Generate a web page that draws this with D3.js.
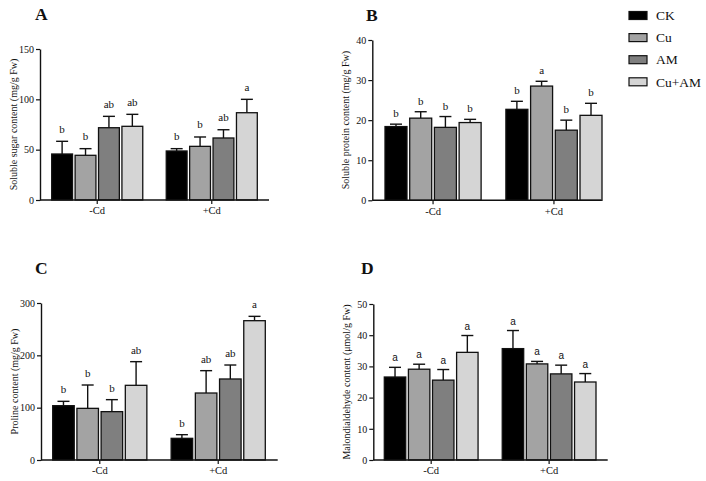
<!DOCTYPE html>
<html>
<head>
<meta charset="utf-8">
<script src="https://cdn.jsdelivr.net/npm/d3@7"></script>
<style>
  body { margin: 0; background: #fff; }
  svg { display: block; }
  text { font-family: "Liberation Serif", "Times New Roman", serif; fill: #111; }
</style>
</head>
<body>
<div id="chart"></div>
<script>
// groups and treatments
const groups = ["-Cd", "+Cd"];
const treatments = ["CK", "Cu", "AM", "Cu+AM"];

// values, ordered -Cd (CK, Cu, AM, Cu+AM) then +Cd
const sugarMean = [45.7, 44.4, 71.8, 73.2, 48.7, 53.3, 61.6, 86.7];
const sugarErr = [12.6, 6.6, 11.3, 11.9, 2.3, 9.3, 8.2, 13.3];
const sugarSig = ["b", "b", "ab", "ab", "b", "b", "ab", "a"];
const sugarTicks = [0, 50, 100, 150];

const proteinMean = [18.4, 20.5, 18.2, 19.4, 22.7, 28.5, 17.5, 21.2];
const proteinErr = [0.6, 1.6, 2.7, 0.8, 2.0, 1.2, 2.5, 3.0];
const proteinSig = ["b", "b", "b", "b", "b", "a", "b", "b"];
const proteinTicks = [0, 10, 20, 30, 40];

const prolineMean = [103.8, 98.7, 92.4, 142.7, 41.4, 128.0, 154.8, 266.2];
const prolineErr = [8.3, 44.6, 22.9, 45.2, 7.0, 42.7, 26.7, 8.3];
const prolineSig = ["b", "b", "b", "ab", "b", "ab", "ab", "a"];
const prolineTicks = [0, 100, 200, 300];

const mdaMean = [26.6, 29.1, 25.6, 34.5, 35.7, 30.8, 27.6, 25.0];
const mdaErr = [3.1, 1.6, 3.4, 5.4, 5.8, 0.8, 2.8, 2.7];
const mdaSig = ["a", "a", "a", "a", "a", "a", "a", "a"];
const mdaTicks = [0, 10, 20, 30, 40, 50];

const W = 706, H = 481;

const color = d3.scaleOrdinal()
  .domain(treatments)
  .range(["#000000", "#a3a3a3", "#7f7f7f", "#d5d5d5"]);

const svg = d3.select("#chart").append("svg")
  .attr("width", W)
  .attr("height", H);

// layout of each panel
const panels = [
  { letter: "A", lx: 35, ly: 20, label: "Soluble sugar content (mg/g Fw)",
    mean: sugarMean, err: sugarErr, sig: sugarSig, ticks: sugarTicks,
    x0: 40, xEnd: 269, top: 49, bottom: 200, band: [51.7, 257.3], sigFont: "serif", sigGap: 8.5 },
  { letter: "B", lx: 366, ly: 20.5, label: "Soluble protein content (mg/g Fw)",
    mean: proteinMean, err: proteinErr, sig: proteinSig, ticks: proteinTicks,
    x0: 372.3, xEnd: 601, top: 40, bottom: 200.3, band: [385, 602], sigFont: "serif", sigGap: 7 },
  { letter: "C", lx: 35, ly: 274, label: "Proline content (mg/g Fw)",
    mean: prolineMean, err: prolineErr, sig: prolineSig, ticks: prolineTicks,
    x0: 41, xEnd: 277.7, top: 303, bottom: 460, band: [52.7, 265.3], sigFont: "serif", sigGap: 8 },
  { letter: "D", lx: 361, ly: 274, label: "Malondialdehyde content (\u03bcmol/g Fw)",
    mean: mdaMean, err: mdaErr, sig: mdaSig, ticks: mdaTicks,
    x0: 373.3, xEnd: 607.7, top: 304, bottom: 460, band: [384.3, 596], sigFont: "sans", sigGap: 6 }
];

panels.forEach(function(p) {
  const g = svg.append("g");

  const y = d3.scaleLinear()
    .domain([0, d3.max(p.ticks)])
    .range([p.bottom, p.top]);

  const xGroup = d3.scaleBand()
    .domain(groups)
    .range(p.band)
    .paddingInner(0.205)
    .paddingOuter(0);

  const xBar = d3.scaleBand()
    .domain(treatments)
    .range([0, xGroup.bandwidth()])
    .paddingInner(0.11)
    .paddingOuter(0);

  // build rows from the arrays
  const rows = p.mean.map(function(v, i) {
    return {
      group: groups[Math.floor(i / treatments.length)],
      treat: treatments[i % treatments.length],
      value: v,
      err: p.err[i],
      sig: p.sig[i]
    };
  });

  const bx = d => xGroup(d.group) + xBar(d.treat);
  const cx = d => bx(d) + xBar.bandwidth() / 2;

  // error bars (upper only)
  g.selectAll("line.err").data(rows).enter()
    .append("line")
    .attr("class", "err")
    .attr("x1", cx).attr("x2", cx)
    .attr("y1", d => y(d.value))
    .attr("y2", d => y(d.value + d.err))
    .attr("stroke", "#111")
    .attr("stroke-width", 1.4);

  g.selectAll("line.cap").data(rows).enter()
    .append("line")
    .attr("class", "cap")
    .attr("x1", d => cx(d) - 6).attr("x2", d => cx(d) + 6)
    .attr("y1", d => y(d.value + d.err))
    .attr("y2", d => y(d.value + d.err))
    .attr("stroke", "#111")
    .attr("stroke-width", 1.4);

  // bars
  g.selectAll("rect.bar").data(rows).enter()
    .append("rect")
    .attr("class", "bar")
    .attr("x", bx)
    .attr("y", d => y(d.value))
    .attr("width", xBar.bandwidth())
    .attr("height", d => y(0) - y(d.value))
    .attr("fill", d => color(d.treat))
    .attr("stroke", "#111")
    .attr("stroke-width", 1.3);

  // significance letters
  g.selectAll("text.sig").data(rows).enter()
    .append("text")
    .attr("class", "sig")
    .attr("x", cx)
    .attr("y", d => y(d.value + d.err) - p.sigGap)
    .attr("text-anchor", "middle")
    .style("font-size", p.sigFont == "sans" ? "10px" : "11px")
    .style("font-family", p.sigFont == "sans" ? "'Liberation Sans', Arial, sans-serif" : null)
    .text(d => d.sig);

  // y axis
  const yAxis = g.append("g")
    .attr("transform", "translate(" + p.x0 + ",0)")
    .call(d3.axisLeft(y).tickValues(p.ticks).tickSize(4).tickSizeOuter(0).tickPadding(2));
  yAxis.select(".domain").attr("stroke", "#111").attr("stroke-width", 1.4);
  yAxis.selectAll(".tick line").attr("stroke", "#111").attr("stroke-width", 1.2);
  yAxis.selectAll(".tick text")
    .style("font-family", "'Liberation Serif', serif")
    .style("font-size", "10px")
    .attr("fill", "#222");

  // x axis: ticks at group centres, baseline drawn to panel end
  const xAxis = g.append("g")
    .attr("transform", "translate(0," + p.bottom + ")")
    .call(d3.axisBottom(xGroup).tickSize(4).tickSizeOuter(0).tickPadding(3));
  xAxis.select(".domain").remove();
  xAxis.selectAll(".tick line").attr("stroke", "#111").attr("stroke-width", 1.2);
  xAxis.selectAll(".tick text")
    .style("font-family", "'Liberation Serif', serif")
    .style("font-size", "10.5px")
    .attr("fill", "#222");

  g.append("line")
    .attr("x1", p.x0).attr("x2", p.xEnd)
    .attr("y1", p.bottom).attr("y2", p.bottom)
    .attr("stroke", "#111")
    .attr("stroke-width", 1.4);

  // y axis title
  g.append("text")
    .attr("transform", "translate(" + (p.x0 - 27) + "," + ((p.top + p.bottom) / 2) + ") rotate(-90)")
    .attr("text-anchor", "middle")
    .attr("dy", "0.35em")
    .style("font-size", "10px")
    .text(p.label);

  // panel letter
  g.append("text")
    .attr("x", p.lx)
    .attr("y", p.ly)
    .style("font-size", "17.5px")
    .style("font-weight", "bold")
    .text(p.letter);
});

// legend
const legend = svg.append("g").attr("transform", "translate(629,15.5)");
const item = legend.selectAll("g").data(treatments).enter()
  .append("g")
  .attr("transform", (d, i) => "translate(0," + (i * 22.1) + ")");

item.append("rect")
  .attr("x", 0).attr("y", -4)
  .attr("width", 18).attr("height", 8)
  .attr("fill", d => color(d))
  .attr("stroke", "#111")
  .attr("stroke-width", 1.2);

item.append("text")
  .attr("x", 27)
  .attr("dy", "0.35em")
  .style("font-size", "13.5px")
  .text(d => d);
</script>
</body>
</html>
